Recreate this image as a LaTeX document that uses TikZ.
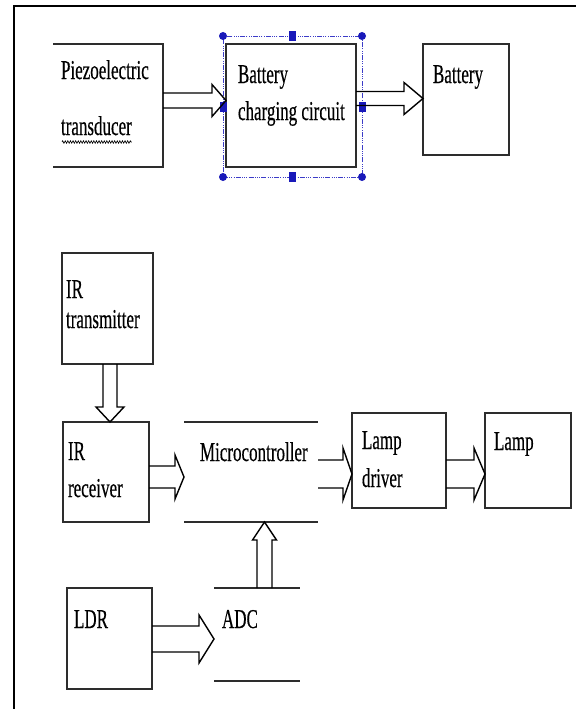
\documentclass[tikz,border=0pt]{standalone}
\usepackage{fontspec}
\usepackage{graphicx}
\setmainfont{Liberation Serif}
\newfontfamily\heavyserif[FakeBold=0.5]{Liberation Serif}
\usetikzlibrary{calc,decorations.pathmorphing}
\definecolor{boxgray}{RGB}{45,45,45}
\definecolor{selblue}{RGB}{25,25,185}
\definecolor{seldash}{RGB}{60,60,200}
\newcommand\T[1]{\scalebox{1}[1.6]{#1}}
\newcommand\harrow[6]{%
  \draw[blk] let \p1=(#1), \p2=(#2) in
   (\x1,{-(#3-#4)*1pt}) -- ({\x2-#6pt},{-(#3-#4)*1pt}) -- ({\x2-#6pt},{-(#3-#5)*1pt})
   -- (\x2,{-#3*1pt}) -- ({\x2-#6pt},{-(#3+#5)*1pt}) -- ({\x2-#6pt},{-(#3+#4)*1pt})
   -- (\x1,{-(#3+#4)*1pt});}
\newcommand\varrowdn[6]{%
  \draw[blk] let \p1=(#1), \p2=(#2) in
   ({(#3-#4)*1pt},\y1) -- ({(#3-#4)*1pt},{\y2+#6pt}) -- ({(#3-#5)*1pt},{\y2+#6pt})
   -- ({#3*1pt},\y2) -- ({(#3+#5)*1pt},{\y2+#6pt}) -- ({(#3+#4)*1pt},{\y2+#6pt})
   -- ({(#3+#4)*1pt},\y1);}
\newcommand\varrowup[6]{%
  \draw[blk] let \p1=(#1), \p2=(#2) in
   ({(#3-#4)*1pt},\y1) -- ({(#3-#4)*1pt},{\y2-#6pt}) -- ({(#3-#5)*1pt},{\y2-#6pt})
   -- ({#3*1pt},\y2) -- ({(#3+#5)*1pt},{\y2-#6pt}) -- ({(#3+#4)*1pt},{\y2-#6pt})
   -- ({(#3+#4)*1pt},\y1);}
\begin{document}
\begin{tikzpicture}[x=1pt,y=-1pt,
  box/.style={draw=boxgray,line width=1.4pt,inner sep=0pt,outer sep=0pt,anchor=north west},
  openbox/.style={draw=none,inner sep=0pt,outer sep=0pt,anchor=north west},
  boxline/.style={draw=boxgray,line width=1.4pt},
  blk/.style={draw=black,line width=1.4pt,line join=miter},
  txt/.style={inner sep=0pt,outer sep=0pt,anchor=base west,font=\heavyserif\fontsize{17}{20}\selectfont},
  sel/.style={draw=seldash,line width=0.8pt,dash pattern=on 5pt off 1.2pt on 1pt off 1.2pt on 1pt off 1.2pt on 1pt off 1.2pt,inner sep=0pt,outer sep=0pt,anchor=north west},
  hcirc/.style={circle,fill=selblue,inner sep=0pt,minimum size=8pt},
  hsq/.style={rectangle,fill=selblue,inner sep=0pt,minimum width=7pt,minimum height=10pt},
  frame/.style={draw=black,line width=1.4pt}]
\useasboundingbox (0,0) rectangle (576,709);
\fill[white] (0,0) rectangle (576,709);
% frame
\draw[frame] (14,709) -- (14,6) -- (576,6);

% ---------- top section ----------
\node[openbox,minimum width=110pt,minimum height=123pt] (piezo) at (53,44) {};
\draw[boxline] (piezo.north west) -- (piezo.north east) -- (piezo.south east) -- (piezo.south west);
\node[txt] (tPiezo) at (61,79) {\T{Piezoelectric}};
\node[txt] (tTrans) at (61,135) {\T{transducer}};
\draw[black,line width=0.6pt,decorate,decoration={zigzag,amplitude=1.3pt,segment length=2.6pt}]
  ($(tTrans.base west)+(1,7)$) -- ($(tTrans.base east)+(0,7)$);

\node[box,minimum width=130pt,minimum height=123pt] (bcc) at (226,44) {};
\node[txt] (tBat1) at (238,83) {\T{Battery}};
\node[txt] (tCharg) at (238,120) {\T{charging circuit}};

\node[sel,minimum width=139pt,minimum height=141pt] (selr) at (223,36) {};
\foreach \a/\n in {north west/h1,north east/h2,south west/h3,south east/h4}
  \node[hcirc] (\n) at (selr.\a) {};
\foreach \a/\n in {north/h5,south/h6,west/h7,east/h8}
  \node[hsq] (\n) at (selr.\a) {};

\node[box,minimum width=86pt,minimum height=111pt] (bat) at (423,44) {};
\node[txt] (tBat2) at (433,83) {\T{Battery}};

\harrow{piezo.east}{bcc.west}{100.5}{7.5}{16}{14}
\harrow{bcc.east}{bat.west}{98.5}{7}{16}{19}

% ---------- lower section ----------
\node[box,minimum width=91pt,minimum height=111pt] (irt) at (62,253) {};
\node[txt] (tIR1) at (66,298) {\T{IR}};
\node[txt] (tTx) at (66,328) {\T{transmitter}};

\node[box,minimum width=86pt,minimum height=100pt] (irr) at (63,422) {};
\node[txt] (tIR2) at (68,460) {\T{IR}};
\node[txt] (tRx) at (68,497) {\T{receiver}};

\node[openbox,minimum width=134pt,minimum height=100pt] (micro) at (184,422) {};
\draw[boxline] (micro.north west) -- (micro.north east);
\draw[boxline] (micro.south west) -- (micro.south east);
\node[txt] (tMicro) at (200,461) {\T{Microcontroller}};

\node[box,minimum width=94pt,minimum height=95pt] (ld) at (352,413) {};
\node[txt] (tLamp1) at (362,449) {\T{Lamp}};
\node[txt] (tDrv) at (362,487) {\T{driver}};

\node[box,minimum width=86pt,minimum height=95pt] (lamp) at (485,413) {};
\node[txt] (tLamp2) at (494,450) {\T{Lamp}};

\node[box,minimum width=85pt,minimum height=101pt] (ldr) at (67,588) {};
\node[txt] (tLDR) at (74,628) {\T{LDR}};

\node[openbox,minimum width=86pt,minimum height=93pt] (adc) at (214,588) {};
\draw[boxline] (adc.north west) -- (adc.north east);
\draw[boxline] (adc.south west) -- (adc.south east);
\node[txt] (tADC) at (222,628) {\T{ADC}};

\varrowdn{irt.south}{irr.north}{110}{7}{14}{15}
\harrow{irr.east}{micro.west}{477}{11}{22}{9}
\harrow{micro.east}{ld.west}{474}{14}{26}{9}
\harrow{ld.east}{lamp.west}{474}{14}{26}{11}
\harrow{ldr.east}{adc.west}{639}{13}{24}{15}
\varrowup{adc.north}{micro.south}{264.5}{7.5}{12}{18}
\end{tikzpicture}
\end{document}
